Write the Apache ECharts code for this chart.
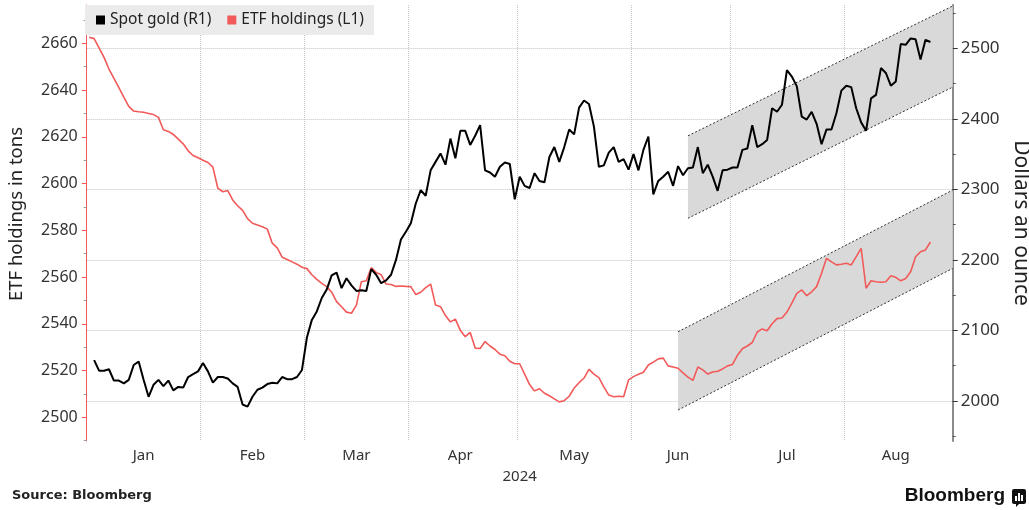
<!DOCTYPE html>
<html><head><meta charset="utf-8">
<script src="https://cdn.jsdelivr.net/npm/echarts@6/dist/echarts.min.js"></script>
<style>html,body{margin:0;padding:0;background:#fff}#c{width:1029px;height:510px}</style>
</head><body><div id="c"></div>
<script>
// ---------- data ----------
const startDate = '2024-01-01';
const endDate = '2024-08-30';
const monthNames = ['Jan','Feb','Mar','Apr','May','Jun','Jul','Aug'];
const yearLabel = '2024';

// ETF holdings in tons (left axis), one value per weekday from Jan 1
const etfHoldings = [
 2662.6,2662,2658,2654,2649,2645,2641,2637,2633,2631,
 2630.7,2630.5,2630,2629.5,2628.3,2623,2622.3,2621,2619,2617,
 2614,2612,2611,2610,2609,2607,2598,2596.5,2597,2593,
 2590.5,2588.5,2585,2583,2582.3,2581.5,2580.5,2574.5,2572.5,2568.5,
 2567.5,2566.5,2565.5,2564.2,2563.6,2561,2559,2557.3,2555.9,2553.5,
 2549.5,2547.3,2545,2544.5,2548,2558,2558.4,2564,2562,2561,
 2557,2556.8,2556,2556.2,2556,2555.9,2552.5,2553.5,2555.5,2557,
 2548,2547.3,2543.5,2540.8,2542,2537.2,2534.5,2536.3,2529.6,2529.4,
 2532.4,2530.5,2529,2527,2526.3,2524,2522.9,2522.9,2518.5,2514,
 2511.3,2512.2,2510.3,2509.2,2507.9,2506.6,2507.1,2509,2512.5,2514.8,
 2516.8,2520.5,2518.5,2517,2513,2509.5,2508.8,2509,2508.8,2516,
 2517.4,2518.4,2519.3,2522.4,2523.6,2525,2525.3,2522,2521.5,2521,
 2519,2517.2,2515.8,2521.5,2520.3,2518.5,2519.4,2519.7,2520.7,2522,
 2522.6,2526.5,2529.3,2530.5,2532,2536.5,2537.8,2537,2540,2542.2,
 2542.5,2545,2548.8,2553,2554.5,2552,2553.7,2555.9,2561.6,2568,
 2566.5,2565.2,2565.5,2565.9,2565.2,2568.7,2572.3,2555.2,2558.4,2558,
 2557.8,2558,2560.6,2559.9,2558.4,2559.4,2562.3,2568.7,2570.8,2571.6,
 2575
];

// Spot gold, dollars an ounce (right axis), one value per weekday from Jan 1
const spotGold = [
 null,2058,2043,2043,2045,2029,2029,2025,2030,2051,
 2056,2030,2006,2023,2030,2021,2029,2015,2020,2019,
 2034,2038,2042,2054,2042,2026,2034,2034,2032,2025,
 2020,1995,1992,2006,2016,2019,2024,2026,2025,2034,
 2031,2031,2034,2044,2090,2115,2127,2146,2158,2178,
 2182,2160,2174,2164,2156,2157,2156,2187,2179,2167,
 2171,2179,2200,2229,2240,2252,2280,2299,2291,2327,
 2339,2351,2335,2372,2344,2383,2383,2363,2376,2391,
 2327,2324,2318,2332,2338,2336,2286,2318,2305,2302,
 2323,2312,2310,2346,2360,2339,2360,2385,2378,2416,
 2426,2421,2389,2332,2334,2352,2360,2339,2343,2328,
 2350,2327,2356,2375,2293,2312,2318,2325,2305,2333,
 2320,2330,2331,2360,2323,2335,2318,2298,2327,2328,
 2331,2331,2356,2358,2391,2360,2364,2370,2415,2410,
 2420,2469,2460,2446,2403,2399,2410,2393,2364,2385,
 2385,2408,2440,2447,2445,2415,2395,2383,2429,2434,
 2472,2465,2447,2453,2506,2505,2514,2513,2484,2512,
 2509
];

const leftTicks = [2500,2520,2540,2560,2580,2600,2620,2640,2660];
const leftMinorTicks = [2490,2510,2530,2550,2570,2590,2610,2630,2650,2670];
const rightTicks = [2000,2100,2200,2300,2400,2500];
const rightMinorTicks = [1950,2050,2150,2250,2350,2450,2550];

// trend channels: start date, [value at start, value at right edge]
const goldChannelStart = '2024-06-18';
const goldChannelUpper = [2376, 2560];
const goldChannelLower = [2259, 2445];
const etfChannelStart = '2024-06-14';
const etfChannelUpper = [2536.6, 2597.2];
const etfChannelLower = [2503.1, 2563.7];

// ---------- build ----------
function weekdays(a, b) {
  const out = [];
  const d = new Date(a + 'T00:00:00Z');
  const e = new Date(b + 'T00:00:00Z');
  while (d <= e) {
    const w = d.getUTCDay();
    if (w !== 0 && w !== 6) out.push(d.toISOString().slice(0, 10));
    d.setUTCDate(d.getUTCDate() + 1);
  }
  return out;
}
const dates = weekdays(startDate, endDate);
const monthStart = new Set();
const labelIdx = new Set();
(function () {
  let s = 0;
  for (let i = 1; i <= dates.length; i++) {
    if (i === dates.length || dates[i].slice(5, 7) !== dates[i - 1].slice(5, 7)) {
      const n = i - s;
      monthStart.add(s);
      labelIdx.add(s + Math.floor((n - 1) / 2));
      s = i;
    }
  }
})();

const LEFT_MIN = 2489.86, LEFT_MAX = 2676.38;
const RIGHT_MIN = 1943.3, RIGHT_MAX = 2561.4;
const FONT = '"Noto Sans", "DejaVu Sans", sans-serif';
const GRID_COLOR = '#c4c4c4';
const RED = '#f25a5a';
const plain = (v) => String(v);

function channelItem(params, api) {
  const band = api.size([1, 0])[0];
  const last = dates[dates.length - 1];
  const ul = api.coord([api.value(0), api.value(1)]);
  const ur = api.coord([last, api.value(2)]);
  const ll = api.coord([api.value(0), api.value(3)]);
  const lr = api.coord([last, api.value(4)]);
  ur[0] += band / 2; lr[0] += band / 2;
  return {
    type: 'group',
    children: [
      { type: 'polygon', shape: { points: [ul, ur, lr, ll] }, style: { fill: '#d9d9d9' } },
      { type: 'polyline', shape: { points: [ul, ur] }, style: { stroke: '#333', lineWidth: 1, lineDash: [2, 2], fill: null } },
      { type: 'polyline', shape: { points: [ll, lr] }, style: { stroke: '#333', lineWidth: 1, lineDash: [2, 2], fill: null } }
    ]
  };
}

const chart = echarts.init(document.getElementById('c'), null, { renderer: 'canvas' });
chart.setOption({
  animation: false,
  backgroundColor: '#fff',
  textStyle: { fontFamily: FONT },
  grid: { left: 86.7, right: 76.3, top: 5, bottom: 69, containLabel: false, outerBoundsMode: 'none' },
  legend: {
    left: 85, top: 5,
    backgroundColor: '#ebebeb',
    padding: [7, 10, 7, 11],
    itemWidth: 9, itemHeight: 9, itemGap: 16,
    textStyle: { fontSize: 15.5, color: '#222', fontFamily: FONT },
    data: [
      { name: 'Spot gold (R1)', icon: 'rect', itemStyle: { color: '#000' } },
      { name: 'ETF holdings (L1)', icon: 'rect', itemStyle: { color: RED } }
    ]
  },
  xAxis: {
    type: 'category', data: dates, boundaryGap: true,
    axisLine: { show: false }, axisTick: { show: false },
    axisLabel: {
      interval: (i) => labelIdx.has(i),
      formatter: (v) => monthNames[+v.slice(5, 7) - 1],
      color: '#333', fontSize: 15, margin: 7, fontFamily: FONT
    },
    splitLine: { show: true, interval: (i) => monthStart.has(i), lineStyle: { type: 'dotted', color: GRID_COLOR, width: 1 } },
    name: yearLabel, nameLocation: 'middle', nameGap: 28,
    nameTextStyle: { color: '#333', fontSize: 15, fontFamily: FONT }
  },
  yAxis: [
    {
      type: 'value', position: 'left', min: LEFT_MIN, max: LEFT_MAX,
      axisLine: { show: true, lineStyle: { color: RED, width: 1 } },
      axisTick: { show: true, customValues: leftTicks, length: 5, lineStyle: { color: RED } },
      axisLabel: { customValues: leftTicks, formatter: plain, color: '#333', fontSize: 16, margin: 9, fontFamily: FONT },
      splitLine: { show: false },
      name: 'ETF holdings in tons', nameLocation: 'middle', nameRotate: 90, nameGap: 60,
      nameTextStyle: { color: '#222', fontSize: 18.5, fontFamily: FONT, padding: [0, 0, 0, 18] }
    },
    {
      type: 'value', position: 'right', min: RIGHT_MIN, max: RIGHT_MAX,
      axisLine: { show: true, lineStyle: { color: '#8a8a8a', width: 2 } },
      axisTick: { show: true, customValues: rightTicks, length: 5, lineStyle: { color: '#333' } },
      axisLabel: { customValues: rightTicks, formatter: plain, color: '#333', fontSize: 17, margin: 8, fontFamily: FONT },
      splitLine: { show: true, lineStyle: { type: 'dotted', color: GRID_COLOR, width: 1 } },
      name: 'Dollars an ounce', nameLocation: 'middle', nameRotate: -90, nameGap: 51,
      nameTextStyle: { color: '#222', fontSize: 21, fontFamily: FONT }
    },
    {
      type: 'value', position: 'left', min: LEFT_MIN, max: LEFT_MAX,
      axisLine: { show: false },
      axisTick: { show: true, customValues: leftMinorTicks, length: 3, lineStyle: { color: '#999' } },
      axisLabel: { show: false }, splitLine: { show: false }
    },
    {
      type: 'value', position: 'right', min: RIGHT_MIN, max: RIGHT_MAX,
      axisLine: { show: false },
      axisTick: { show: true, customValues: rightMinorTicks, length: 3, lineStyle: { color: '#555' } },
      axisLabel: { show: false }, splitLine: { show: false }
    }
  ],
  series: [
    {
      type: 'custom', name: 'goldChannel', yAxisIndex: 1, z: 1, silent: true,
      renderItem: channelItem,
      encode: { x: 0, y: [1, 2, 3, 4] },
      data: [[goldChannelStart, goldChannelUpper[0], goldChannelUpper[1], goldChannelLower[0], goldChannelLower[1]]]
    },
    {
      type: 'custom', name: 'etfChannel', yAxisIndex: 0, z: 1, silent: true,
      renderItem: channelItem,
      encode: { x: 0, y: [1, 2, 3, 4] },
      data: [[etfChannelStart, etfChannelUpper[0], etfChannelUpper[1], etfChannelLower[0], etfChannelLower[1]]]
    },
    {
      type: 'line', name: 'ETF holdings (L1)', yAxisIndex: 0, data: etfHoldings, z: 3,
      showSymbol: false, lineStyle: { color: RED, width: 1.6 }, itemStyle: { color: RED }
    },
    {
      type: 'line', name: 'Spot gold (R1)', yAxisIndex: 1, data: spotGold, z: 4,
      showSymbol: false, lineStyle: { color: '#000', width: 2 }, itemStyle: { color: '#000' }
    }
  ],
  graphic: [
    { type: 'text', left: 12, top: 489, style: { text: 'Source: Bloomberg', font: 'bold 13px "DejaVu Sans", sans-serif', fill: '#222' } },
    { type: 'text', right: 24, top: 486, style: { text: 'Bloomberg', font: 'bold 19px "Liberation Sans", Arial, sans-serif', fill: '#111' } },
    { type: 'group', left: 1012, top: 489, children: [
      { type: 'rect', shape: { x: 0, y: 0, width: 14, height: 15, r: 2 }, style: { fill: '#111' } },
      { type: 'polygon', shape: { points: [[4, 15], [7, 15], [4, 18]] }, style: { fill: '#111' } },
      { type: 'rect', shape: { x: 3, y: 7, width: 2, height: 5 }, style: { fill: '#fff' } },
      { type: 'rect', shape: { x: 6, y: 4, width: 2, height: 8 }, style: { fill: '#fff' } },
      { type: 'rect', shape: { x: 9, y: 6, width: 2, height: 6 }, style: { fill: '#fff' } }
    ] }
  ]
});
</script></body></html>
